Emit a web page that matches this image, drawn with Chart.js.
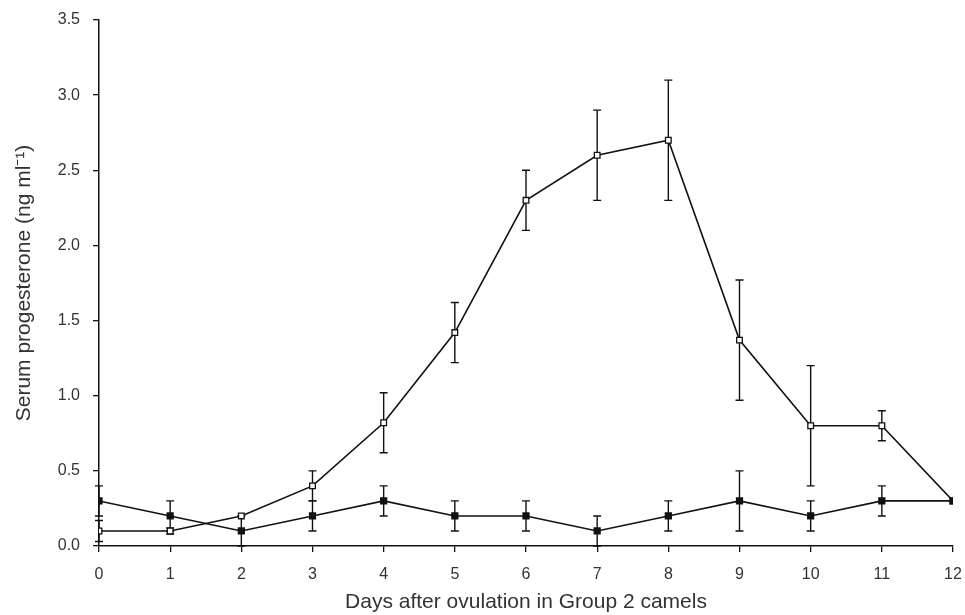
<!DOCTYPE html>
<html>
<head>
<meta charset="utf-8">
<script src="https://cdn.jsdelivr.net/npm/chart.js@4.4.1/dist/chart.umd.min.js"></script>
<style>
  html, body { margin: 0; padding: 0; background: #fff; }
  #wrap { width: 965px; height: 615px; }
</style>
</head>
<body>
<div id="wrap"><canvas id="chart" width="965" height="615"></canvas></div>
<script>
// data
const days = [0, 1, 2, 3, 4, 5, 6, 7, 8, 9, 10, 11, 12];
const openValues = [0.1, 0.1, 0.2, 0.4, 0.82, 1.42, 2.3, 2.6, 2.7, 1.37, 0.8, 0.8, 0.3];
const openErrors = [0.07, 0.02, 0, 0.1, 0.2, 0.2, 0.2, 0.3, 0.4, 0.4, 0.4, 0.1, 0];
const filledValues = [0.3, 0.2, 0.1, 0.2, 0.3, 0.2, 0.2, 0.1, 0.2, 0.3, 0.2, 0.3, 0.3];
const filledErrors = [0.1, 0.1, 0.1, 0.1, 0.1, 0.1, 0.1, 0.1, 0.1, 0.2, 0.1, 0.1, 0];
const yTicks = [0, 0.5, 1.0, 1.5, 2.0, 2.5, 3.0, 3.5];

const textColor = '#333';
const fontFamily = '"Liberation Sans", Arial, Helvetica, sans-serif';

// vertical error bars with caps, drawn under the markers
const errorBars = {
  id: 'errorBars',
  beforeDatasetsDraw(chart) {
    const ctx = chart.ctx;
    const xs = chart.scales.x, ys = chart.scales.y;
    ctx.save();
    ctx.strokeStyle = '#111';
    ctx.lineWidth = 1.4;
    chart.data.datasets.forEach(ds => {
      ds.errors.forEach((e, i) => {
        if (!e) return;
        const v = ds.data[i].y;
        const x = xs.getPixelForValue(ds.data[i].x);
        const top = ys.getPixelForValue(v + e);
        const bot = ys.getPixelForValue(Math.max(v - e, 0));
        ctx.beginPath();
        ctx.moveTo(x, top); ctx.lineTo(x, bot);
        ctx.moveTo(x - 4, top); ctx.lineTo(x + 4, top);
        ctx.moveTo(x - 4, bot); ctx.lineTo(x + 4, bot);
        ctx.stroke();
      });
    });
    ctx.restore();
  }
};

function toPoints(vals) {
  return days.map((d, i) => ({ x: d, y: vals[i] }));
}

new Chart(document.getElementById('chart'), {
  type: 'line',
  data: {
    datasets: [
      {
        label: 'Filled',
        data: toPoints(filledValues),
        errors: filledErrors,
        borderColor: '#111',
        borderWidth: 1.6,
        pointStyle: 'rect',
        pointRadius: 4,
        pointBackgroundColor: '#111',
        pointBorderColor: '#111',
        tension: 0
      },
      {
        label: 'Open',
        data: toPoints(openValues),
        errors: openErrors,
        borderColor: '#111',
        borderWidth: 1.6,
        pointStyle: 'rect',
        pointRadius: 4,
        pointBorderWidth: 1.3,
        pointBackgroundColor: days.map((d, i) => i === days.length - 1 ? '#111' : '#fff'),
        pointBorderColor: '#111',
        tension: 0
      }
    ]
  },
  options: {
    responsive: false,
    animation: false,
    layout: { padding: { top: 20, right: 12, left: 0, bottom: 0 } },
    plugins: {
      legend: { display: false },
      tooltip: { enabled: false }
    },
    scales: {
      x: {
        type: 'linear',
        min: 0,
        max: 12,
        afterFit(scale) {
          scale.height = 69;
          scale.paddingLeft = 0;
          scale.paddingRight = 0;
        },
        afterBuildTicks(scale) { scale.ticks = days.map(v => ({ value: v })); },
        border: { display: true, color: '#111', width: 1.5 },
        grid: { drawOnChartArea: false, drawTicks: true, tickLength: 6, color: '#111', lineWidth: 1.3 },
        ticks: { color: textColor, font: { family: fontFamily, size: 16 }, padding: 13, maxRotation: 0 },
        title: {
          display: true,
          text: 'Days after ovulation in Group 2 camels',
          color: textColor,
          font: { family: fontFamily, size: 21 },
          padding: { top: 4, bottom: 0 }
        }
      },
      y: {
        min: 0,
        max: 3.5,
        afterFit(scale) {
          scale.width = 99;
          scale.paddingTop = 0;
          scale.paddingBottom = 0;
        },
        afterBuildTicks(scale) { scale.ticks = yTicks.map(v => ({ value: v })); },
        border: { display: true, color: '#111', width: 1.5 },
        grid: { drawOnChartArea: false, drawTicks: true, tickLength: 6, color: '#111', lineWidth: 1.3 },
        ticks: {
          color: textColor,
          font: { family: fontFamily, size: 16 },
          padding: 13,
          callback: v => v.toFixed(1)
        },
        title: {
          display: true,
          text: 'Serum progesterone (ng ml\u207B\u00B9)',
          color: textColor,
          font: { family: fontFamily, size: 21 },
          padding: { top: 12, bottom: 6 }
        }
      }
    }
  },
  plugins: [errorBars]
});
</script>
</body>
</html>
